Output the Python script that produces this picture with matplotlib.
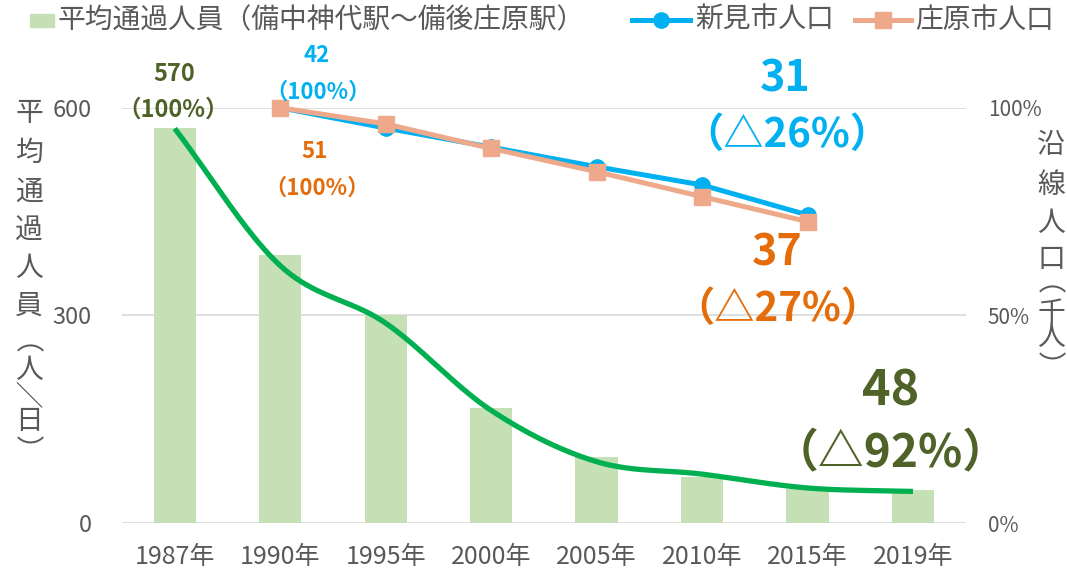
import numpy as np
import matplotlib
matplotlib.use("Agg")
import matplotlib.pyplot as plt
from matplotlib.patches import Rectangle
from matplotlib.lines import Line2D
from matplotlib.textpath import TextPath
from matplotlib.font_manager import FontProperties

plt.rcParams['font.family'] = ['Noto Sans CJK JP', 'DejaVu Sans']

# ---------------- data ----------------
years = ["1987年", "1990年", "1995年", "2000年", "2005年", "2010年", "2015年", "2019年"]
passengers = [570, 387, 300, 167, 96, 67, 50, 48]          # 平均通過人員（人/日）
trend = [570, 372, 289, 163, 89, 71, 51, 46]               # 緑の曲線
pop_years_idx = [1, 2, 3, 4, 5, 6]                         # 1990〜2015
niimi_pct = [100, 95.1, 90.5, 85.8, 81.4, 74.2]            # 新見市人口（1990=100%）
shobara_pct = [100, 96.1, 90.2, 84.6, 78.6, 72.6]          # 庄原市人口（1990=100%）
left_ticks = [0, 300, 600]
right_ticks = [0, 50, 100]
right_tick_labels = ["0%", "50%", "100%"]

# ---------------- colours ----------------
C_BAR = "#C5E0B4"
C_TREND = "#00B050"
C_BLUE = "#00B0F0"
C_SALMON = "#EEA98B"
C_ORANGE = "#E46C0A"
C_OLIVE = "#4F6228"
C_TEXT = "#595959"
C_GRID = "#D9D9D9"

W, H = 1067, 576
fig = plt.figure(figsize=(W / 100, H / 100), dpi=100)


def px(x, y):
    return (x / W, 1 - y / H)


ax = fig.add_axes([122 / W, 1 - 523.3 / H, (965.7 - 122) / W, (523.3 - 107.7) / H])
ax2 = ax.twinx()

x = np.arange(len(years))
ax.bar(x, passengers, width=0.4, color=C_BAR, zorder=2)


def catmull(xs, ys, n=40):
    pts = np.column_stack([xs, ys]).astype(float)
    P = np.vstack([2 * pts[0] - pts[1], pts, 2 * pts[-1] - pts[-2]])
    out = []
    t = np.linspace(0, 1, n, endpoint=False)[:, None]
    for i in range(1, len(P) - 2):
        p0, p1, p2, p3 = P[i - 1], P[i], P[i + 1], P[i + 2]
        m1 = (p2 - p0) / 2
        m2 = (p3 - p1) / 2
        h00 = 2 * t**3 - 3 * t**2 + 1
        h10 = t**3 - 2 * t**2 + t
        h01 = -2 * t**3 + 3 * t**2
        h11 = t**3 - t**2
        out.append(h00 * p1 + h10 * m1 + h01 * p2 + h11 * m2)
    out.append(pts[-1][None, :])
    c = np.vstack(out)
    return c[:, 0], c[:, 1]


tx, ty = catmull(x, trend)
ax.plot(tx, ty, color=C_TREND, lw=3.8, solid_capstyle='butt', zorder=3, clip_on=False)

ax.set_xlim(-0.5, len(years) - 0.5)
ax.set_ylim(0, 600)
ax.set_yticks(left_ticks)
ax.set_yticklabels([str(v) for v in left_ticks])
ax.set_xticks(x)
ax.set_xticklabels(years)
ax.tick_params(axis='y', length=0, pad=22, labelsize=17, labelcolor=C_TEXT)
ax.tick_params(axis='x', length=0, pad=15, labelsize=18, labelcolor=C_TEXT)
ax.yaxis.grid(True, color=C_GRID, lw=1.2, zorder=0)
ax.set_axisbelow(True)
for s in ax.spines.values():
    s.set_visible(False)

ax2.plot(pop_years_idx, niimi_pct, color=C_BLUE, lw=3.6, marker='o', ms=11,
         zorder=4, clip_on=False)
ax2.plot(pop_years_idx, shobara_pct, color=C_SALMON, lw=3.6, marker='s', ms=12,
         zorder=5, clip_on=False)
ax2.set_ylim(0, 100)
ax2.set_yticks(right_ticks)
ax2.set_yticklabels(right_tick_labels)
ax2.tick_params(axis='y', length=0, pad=16, labelsize=15, labelcolor=C_TEXT)
for s in ax2.spines.values():
    s.set_visible(False)

# ---------------- axis titles (vertical, one glyph per row) ----------------
FS_T = 20
fp = FontProperties(family='Noto Sans CJK JP', size=FS_T)
P2PX = 100 / 72


def vchar(ch, xx, yy):
    """Place one character so that its ink centre lands on pixel (xx, yy)."""
    ext = TextPath((0, 0), ch, size=FS_T, prop=fp).get_extents()
    cx = (ext.x0 + ext.x1) / 2 * P2PX
    cy = (ext.y0 + ext.y1) / 2 * P2PX
    lsb = ext.x0 * P2PX
    if ch in "（）／":
        # rotated glyph (vertical writing); Agg shifts the bitmap by its bearing
        ax_ = xx - (cy + lsb)
        ay_ = yy - (cx - lsb)
        rot = -90
    else:
        ax_ = xx - cx
        ay_ = yy + cy
        rot = 0
    fig.text(*px(ax_, ay_), ch, ha='left', va='baseline', fontsize=FS_T,
             color=C_TEXT, rotation=rot, rotation_mode='anchor')


left_title = [("平", 111), ("均", 150), ("通", 189), ("過", 228), ("人", 266), ("員", 304),
              ("（", 347), ("人", 368), ("／", 393), ("日", 419), ("）", 439)]
for ch, yy in left_title:
    vchar(ch, 29, yy)

right_title = [("沿", 143), ("線", 182), ("人", 221), ("口", 258),
               ("（", 288), ("千", 311), ("人", 335), ("）", 355)]
for ch, yy in right_title:
    vchar(ch, 1051, yy)

# ---------------- data labels ----------------
labels = [
    ("570", 174, 74, 17, C_OLIVE), ("（100%）", 173, 110, 17, C_OLIVE),
    ("42", 317, 56, 16, C_BLUE), ("（100%）", 318, 92, 16, C_BLUE),
    ("51", 315, 152, 16, C_ORANGE), ("（100%）", 317, 188, 16, C_ORANGE),
    ("31", 785, 78, 31, C_BLUE), ("（△26%）", 787, 135, 29, C_BLUE),
    ("37", 777, 253, 31, C_ORANGE), ("（△27%）", 778, 309, 29, C_ORANGE),
    ("48", 891, 391, 35, C_OLIVE), ("（△92%）", 891, 453, 33, C_OLIVE),
]
for s, xx, yy, fs, col in labels:
    fig.text(*px(xx, yy), s, ha='center', va='center', fontsize=fs,
             fontweight='bold', color=col)

# ---------------- legend (manual) ----------------
ly = 20
fig.patches.append(Rectangle(px(30, 27), 24 / W, 13 / H, transform=fig.transFigure,
                             color=C_BAR, figure=fig))
fig.text(*px(58, ly), "平均通過人員（備中神代駅～備後庄原駅）", ha='left', va='center',
         fontsize=20, color=C_TEXT)
for (x0, x1, col, mk, ms, label, tx0) in [
        (632, 690, C_BLUE, 'o', 11, "新見市人口", 695),
        (855, 911, C_SALMON, 's', 12, "庄原市人口", 915)]:
    fig.lines.append(Line2D([x0 / W, x1 / W], [1 - ly / H, 1 - ly / H],
                            transform=fig.transFigure, color=col, lw=3.6, figure=fig))
    fig.lines.append(Line2D([(x0 + x1) / 2 / W], [1 - ly / H], transform=fig.transFigure,
                            color=col, marker=mk, ms=ms, figure=fig))
    fig.text(*px(tx0, ly), label, ha='left', va='center', fontsize=20, color=C_TEXT)

fig.savefig("out.png", dpi=100)
